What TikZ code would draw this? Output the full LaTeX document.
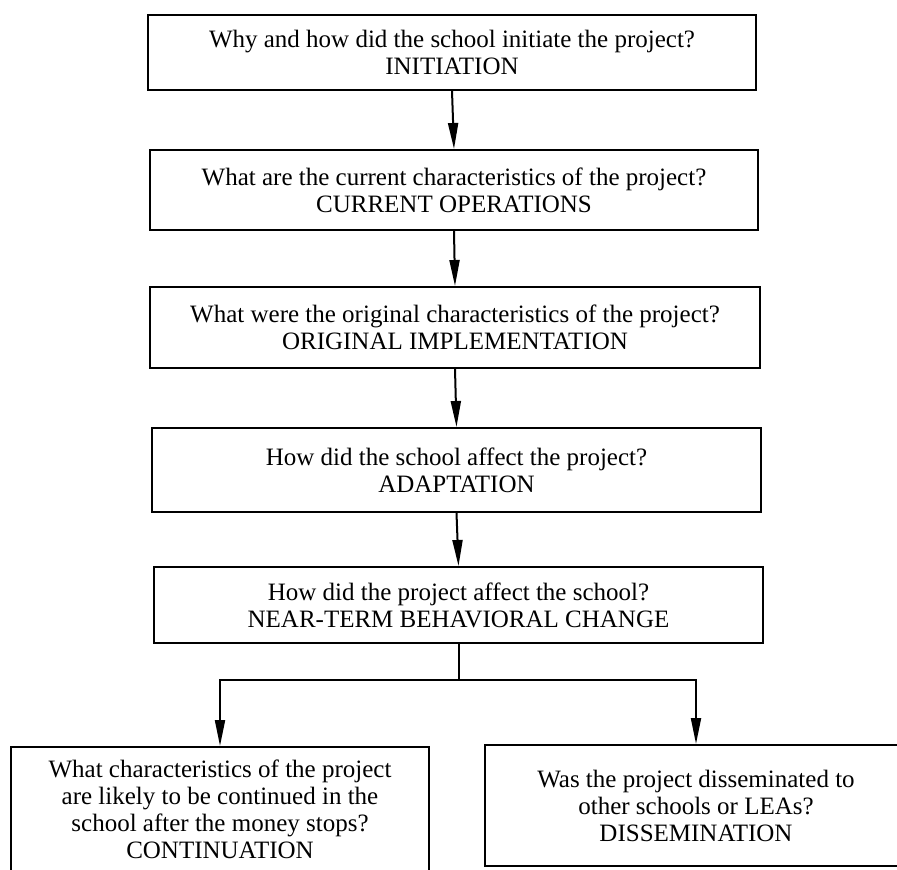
\documentclass[tikz,border=0pt]{standalone}
\usepackage{fontspec}
\setmainfont{Liberation Serif}
\usetikzlibrary{arrows.meta}

\begin{document}
\begin{tikzpicture}[x=1pt,y=-1pt,
  qbox/.style={draw,line width=2pt,rectangle,align=center,inner sep=0pt,
    font=\fontsize{25}{27}\selectfont},
  flow/.style={line width=2pt,-{Triangle[length=26pt,width=10pt]}},
  link/.style={line width=2pt}]
\useasboundingbox (0,0) rectangle (897,870);
\clip (0,0) rectangle (897,870);
% chain of stages
\node[qbox,minimum width=608pt,minimum height=75pt] (init) at (452,52.5)
  {Why and how did the school initiate the project?\\INITIATION};
\node[qbox,minimum width=608pt,minimum height=80pt] (curr) at (454,190)
  {What are the current characteristics of the project?\\CURRENT OPERATIONS};
\node[qbox,minimum width=610pt,minimum height=81pt] (orig) at (455,327.5)
  {What were the original characteristics of the project?\\ORIGINAL IMPLEMENTATION};
\node[qbox,minimum width=609pt,minimum height=84pt] (adapt) at (456.5,470)
  {How did the school affect the project?\\ADAPTATION};
\node[qbox,minimum width=609pt,minimum height=76pt] (near) at (458.5,605)
  {How did the project affect the school?\\NEAR-TERM BEHAVIORAL CHANGE};
% the two outcomes
\node[qbox,minimum width=418pt,minimum height=125pt] (cont) at (220,809.5)
  {What characteristics of the project\\are likely to be continued in the\\school after the money stops?\\CONTINUATION};
\node[qbox,minimum width=422pt,minimum height=121pt] (diss) at (696,805.5)
  {Was the project disseminated to\\other schools or LEAs?\\DISSEMINATION};
\draw[flow] (init.south) -- (curr.north);
\draw[flow] (curr.south) -- (orig.north);
\draw[flow] (orig.south) -- (adapt.north);
\draw[flow] (adapt.south) -- (near.north);
\coordinate (split) at (458.5,680);
\draw[link] (near.south) -- (split);
\draw[flow] (split) -| (cont.north);
\draw[flow] (split) -| (diss.north);
\end{tikzpicture}
\end{document}
